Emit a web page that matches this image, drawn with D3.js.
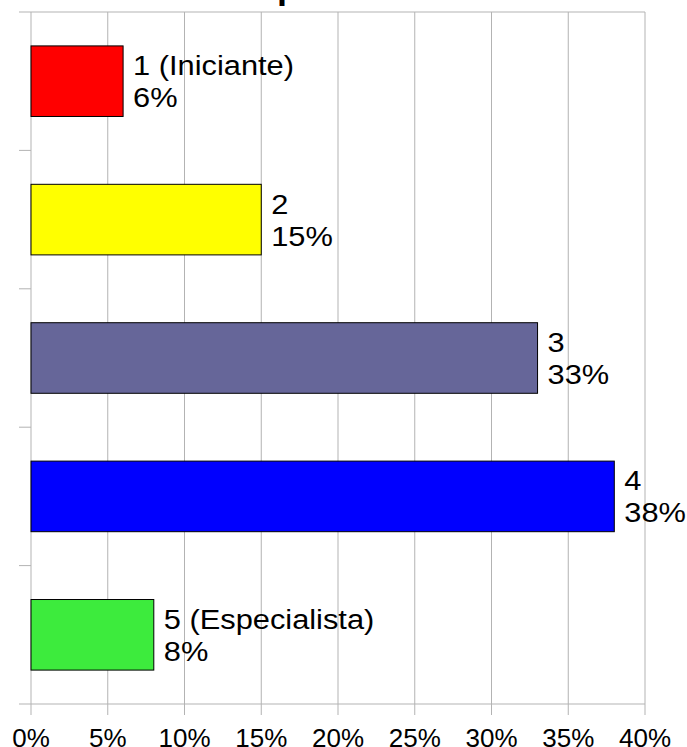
<!DOCTYPE html>
<html>
<head>
	<meta charset="utf-8">
	<title>nivel</title>
	<style type="text/css">
		body { margin: 0; background: #fff; }
		text { font-family: "Liberation Sans", Arial, sans-serif; }
	</style>
</head>
<body>
<script src="https://cdn.jsdelivr.net/npm/d3@7"></script>
<script type="text/javascript">
	/*===== DATA =====*/
	var categorias = ["1 (Iniciante)", "2", "3", "4", "5 (Especialista)"];
	var valores = [6, 15, 33, 38, 8];
	var cores = ["#ff0000", "#ffff00", "#666699", "#0000ff", "#3deb3d"];
	var ticksX = [0, 5, 10, 15, 20, 25, 30, 35, 40];
	var titulo = "Experiência";

	/*===== SVG =====*/
	var w = 687, h = 747;
	var svg = d3.select("body").append("svg").attr("width", w).attr("height", h);

	var mLeft = 31, mRight = 645, mTop = 12, mBottom = 704;

	var x = d3.scaleLinear().domain([0, 40]).range([mLeft, mRight]);
	var y = d3.scaleBand().domain(categorias).range([mTop, mBottom]).padding(0);
	var barH = y.bandwidth() * 0.51;

	// titulo (quase todo fora da tela)
	svg.append("text")
		.attr("x", 233).attr("y", -2)
		.attr("font-size", 36).attr("font-weight", "bold")
		.text(titulo);

	// grade vertical
	svg.selectAll("line.grid").data(ticksX).enter().append("line")
		.attr("class", "grid")
		.attr("x1", function(d){ return x(d); }).attr("x2", function(d){ return x(d); })
		.attr("y1", mTop).attr("y2", mBottom + 11)
		.attr("stroke", "#b3b3b3").attr("stroke-width", 1);

	// borda de cima e eixo de baixo
	[mTop, mBottom].forEach(function(yy){
		svg.append("line")
			.attr("x1", mLeft - 12).attr("x2", mRight)
			.attr("y1", yy).attr("y2", yy)
			.attr("stroke", "#b3b3b3");
	});

	// marcas do eixo y
	svg.selectAll("line.ytick").data(categorias.slice(1)).enter().append("line")
		.attr("class", "ytick")
		.attr("x1", mLeft - 12).attr("x2", mLeft)
		.attr("y1", function(d){ return y(d); }).attr("y2", function(d){ return y(d); })
		.attr("stroke", "#b3b3b3");

	// rótulos do eixo x
	svg.selectAll("text.xt").data(ticksX).enter().append("text")
		.attr("class", "xt")
		.attr("x", function(d){ return x(d); })
		.attr("y", 747)
		.attr("text-anchor", "middle")
		.attr("font-size", 26)
		.text(function(d){ return d + "%"; });

	// barras
	var g = svg.selectAll("g.barra").data(categorias).enter().append("g").attr("class", "barra");

	g.append("rect")
		.attr("x", x(0))
		.attr("y", function(d){ return y(d) + y.bandwidth() / 2 - barH / 2; })
		.attr("width", function(d, i){ return x(valores[i]) - x(0); })
		.attr("height", barH)
		.attr("fill", function(d, i){ return cores[i]; })
		.attr("stroke", "#000").attr("stroke-width", 1);

	// rótulos
	var lab = g.append("text")
		.attr("transform", function(d, i){
			return "translate(" + (x(valores[i]) + 10) + "," + (y(d) + y.bandwidth() / 2 - 6) + ") scale(1.1,1)";
		})
		.attr("font-size", 28);
	lab.append("tspan").attr("x", 0).attr("y", 0).text(function(d){ return d; });
	lab.append("tspan").attr("x", 0).attr("y", 32).text(function(d, i){ return valores[i] + "%"; });
</script>
</body>
</html>
